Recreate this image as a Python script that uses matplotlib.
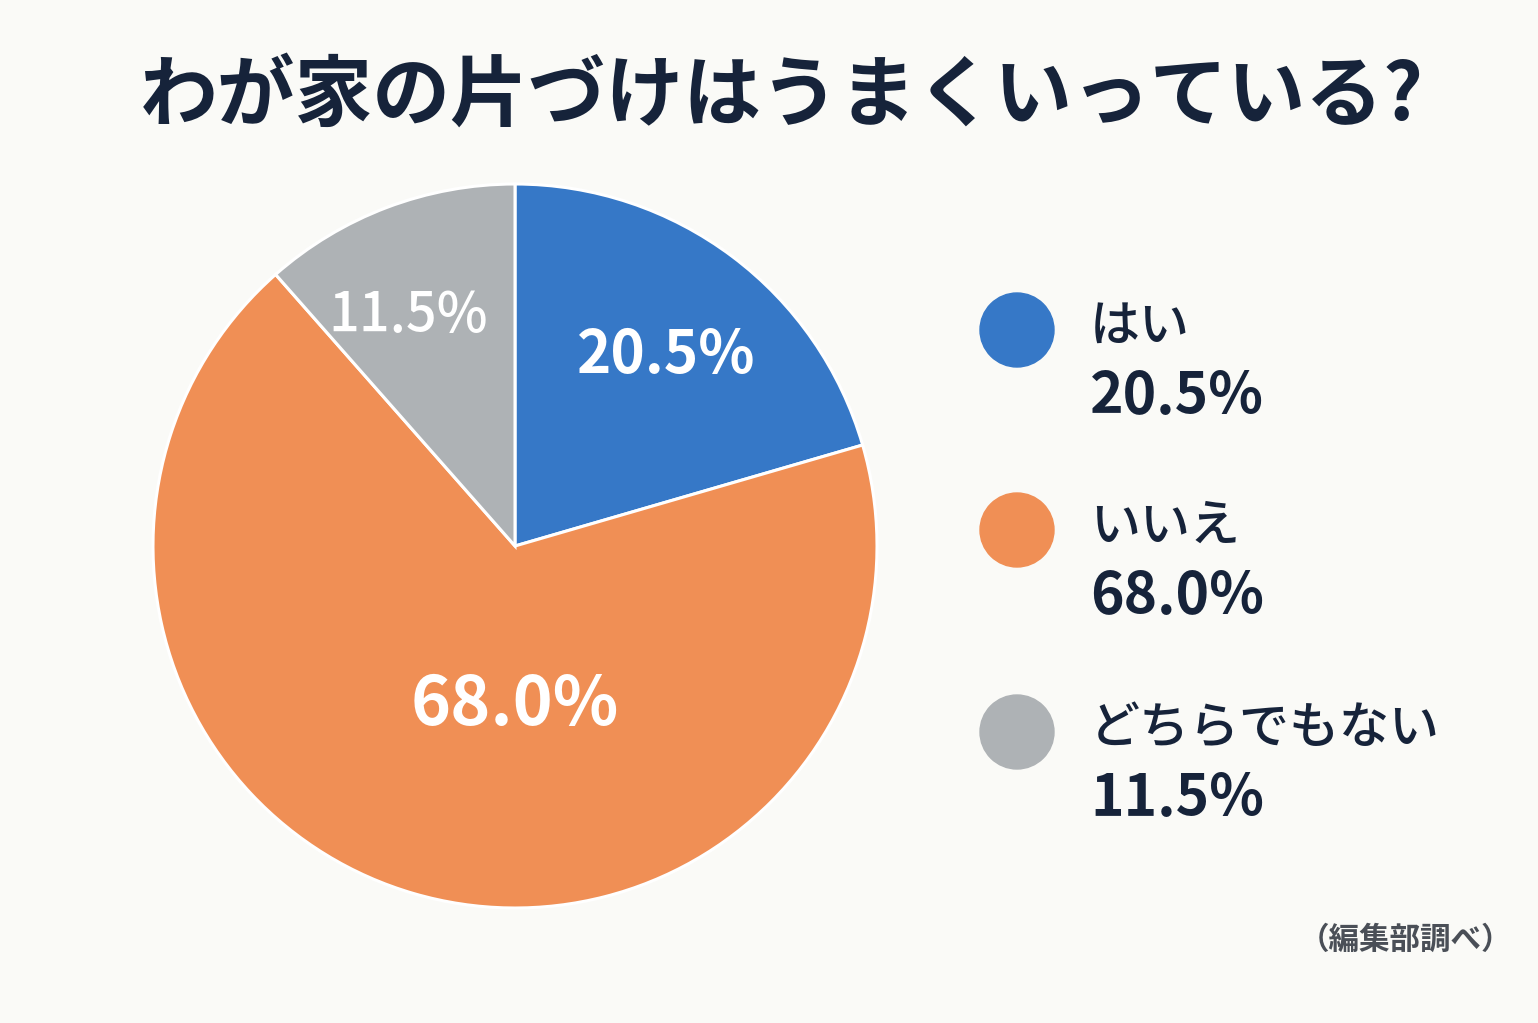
import numpy as np
import matplotlib
matplotlib.use("Agg")
import matplotlib.pyplot as plt
from matplotlib.patches import Circle

plt.rcParams['font.family'] = ['Noto Sans CJK JP', 'DejaVu Sans']

# Data
title = 'わが家の片づけはうまくいっている?'
labels = ['はい', 'いいえ', 'どちらでもない']
values = [20.5, 68.0, 11.5]
colors = ['#3678C7', '#F08F55', '#AEB2B5']
note = '（編集部調べ）'

bg = '#FAFAF7'
navy = '#16233A'

W, H = 1538, 1023
fig = plt.figure(figsize=(W / 100, H / 100), dpi=100, facecolor=bg)

# pie axes placed in pixel terms
cx, cy, r = 515, 546, 362
ax = fig.add_axes([(cx - r) / W, (H - cy - r) / H, 2 * r / W, 2 * r / H])
ax.set_facecolor(bg)
wedges, _ = ax.pie(values, colors=colors, startangle=90, counterclock=False,
                   radius=1.0, wedgeprops=dict(edgecolor='white', linewidth=2.2))
ax.set_xlim(-1, 1)
ax.set_ylim(-1, 1)
ax.set_aspect('equal')
ax.axis('off')

# labels inside the wedges
lab_angle = [51.5, -90, 115]
lab_dist = [0.67, 0.44, 0.70]
lab_size = [42, 49, 39]
lab_weight = ['bold', 'bold', 'medium']
for v, a, d, s, w in zip(values, lab_angle, lab_dist, lab_size, lab_weight):
    t = np.radians(a)
    ax.text(d * np.cos(t), d * np.sin(t), f'{v:.1f}%', ha='center', va='center',
            color='white', fontsize=s, fontweight=w)

# overlay axes in pixel coordinates
ov = fig.add_axes([0, 0, 1, 1])
ov.set_xlim(0, W)
ov.set_ylim(H, 0)
ov.axis('off')
ov.patch.set_alpha(0)

ov.text(782, 97, title, ha='center', va='center', fontsize=56,
        fontweight='bold', color=navy)

leg_y = [330, 530, 732]
for lab, v, c, y in zip(labels, values, colors, leg_y):
    ov.add_patch(Circle((1017, y), 37, color=c))
    ov.text(1090, y - 3, lab, ha='left', va='center', fontsize=36,
            fontweight='medium', color=navy)
    ov.text(1090, y + 67, f'{v:.1f}%', ha='left', va='center', fontsize=41,
            fontweight='bold', color=navy)

ov.text(1512, 940, note, ha='right', va='center', fontsize=22,
        fontweight='bold', color='#4A4F57')

fig.savefig('out.png', dpi=100, facecolor=bg)
